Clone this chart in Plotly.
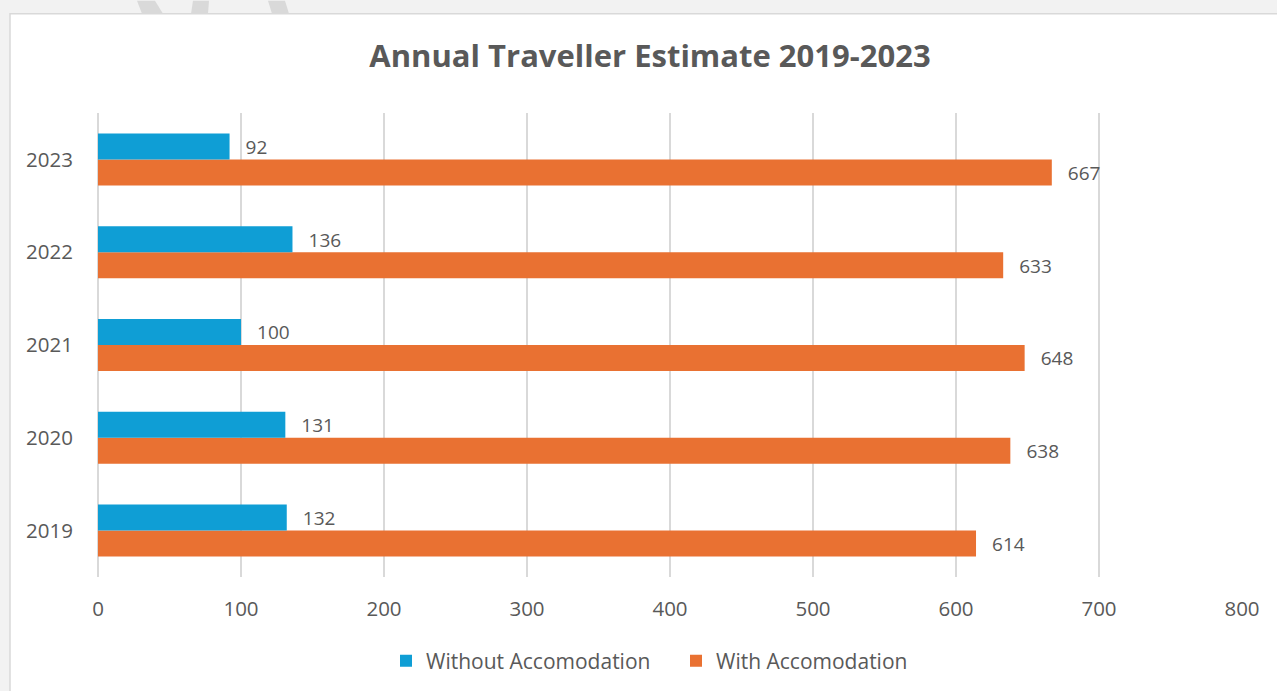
import plotly.graph_objects as go

years = ["2019", "2020", "2021", "2022", "2023"]
without_acc = [132, 131, 100, 136, 92]
with_acc = [614, 638, 648, 633, 667]
x_ticks = [0, 100, 200, 300, 400, 500, 600, 700, 800]

W, H = 1277, 691
L, R, T, B = 98, 1242, 112.5, 577.5

def px(x):
    return (x - L) / (R - L)

def py(y):
    return (B - y) / (B - T)

BLUE = "#0F9ED5"
ORANGE = "#E97132"
TXT = "#595959"
FONT = "Open Sans"
FS = 20.5
PAD = "  \u2009"

fig = go.Figure()
fig.add_trace(go.Bar(
    y=years, x=with_acc, orientation="h", name="With Accomodation",
    marker=dict(color=ORANGE, line=dict(width=0)),
    text=[f"{PAD}{v}" for v in with_acc], textposition="outside",
    textfont=dict(family=FONT, size=FS, color=TXT), cliponaxis=False,
))
fig.add_trace(go.Bar(
    y=years, x=without_acc, orientation="h", name="Without Accomodation",
    marker=dict(color=BLUE, line=dict(width=0)),
    text=[f"{PAD}{v}" for v in without_acc], textposition="outside",
    textfont=dict(family=FONT, size=FS, color=TXT), cliponaxis=False,
))

shapes = [
    dict(type="rect", xref="paper", yref="paper", layer="below",
         x0=px(10), x1=px(W + 5), y0=py(13), y1=py(H + 5),
         fillcolor="white", line=dict(color="#d9d9d9", width=1.5)),
]
for pts in [[(137, 0), (155, 0), (163, 13), (142, 13)],
            [(193, 0), (209, 0), (208, 13), (191, 13)],
            [(268, 0), (285, 0), (289, 13), (272, 13)]]:
    path = "M " + " L ".join(f"{px(a)},{py(b)}" for a, b in pts) + " Z"
    shapes.append(dict(type="path", xref="paper", yref="paper", layer="below",
                       path=path, fillcolor="#d9d9d9", line=dict(width=0)))

fig.update_layout(
    width=W, height=H,
    margin=dict(l=L, r=W - R, t=T, b=H - B),
    paper_bgcolor="#f2f2f2", plot_bgcolor="white",
    barmode="group", bargap=0.44, bargroupgap=0,
    title=dict(text="<b>Annual Traveller Estimate 2019-2023</b>",
               font=dict(family=FONT, size=31, color=TXT),
               xref="container", x=650 / W, xanchor="center",
               yref="container", y=1 - 56 / H, yanchor="middle"),
    font=dict(family=FONT, color=TXT),
    xaxis=dict(range=[0, 800], tickvals=x_ticks, showgrid=True,
               gridcolor="#d9d9d9", gridwidth=1.5, zeroline=True,
               zerolinecolor="#d9d9d9", zerolinewidth=1.5,
               tickfont=dict(family=FONT, size=FS, color=TXT),
               ticks="outside", ticklen=13, tickcolor="rgba(0,0,0,0)",
               fixedrange=True),
    yaxis=dict(categoryorder="array", categoryarray=years, showgrid=False,
               tickfont=dict(family=FONT, size=FS, color=TXT),
               ticks="outside", ticklen=20, tickcolor="rgba(0,0,0,0)",
               zeroline=False, showline=False),
    legend=dict(orientation="h", traceorder="reversed",
                xref="container", x=676 / W, xanchor="center",
                yref="container", y=1 - 661 / H, yanchor="middle",
                font=dict(family=FONT, size=21, color=TXT),
                bgcolor="rgba(0,0,0,0)", entrywidth=245, entrywidthmode="pixels"),
    shapes=shapes,
    showlegend=True,
)

fig.write_html(
    "out.html",
    config={"displayModeBar": False},
    post_script="document.body.style.margin='0';document.body.style.background='#f2f2f2';",
)
